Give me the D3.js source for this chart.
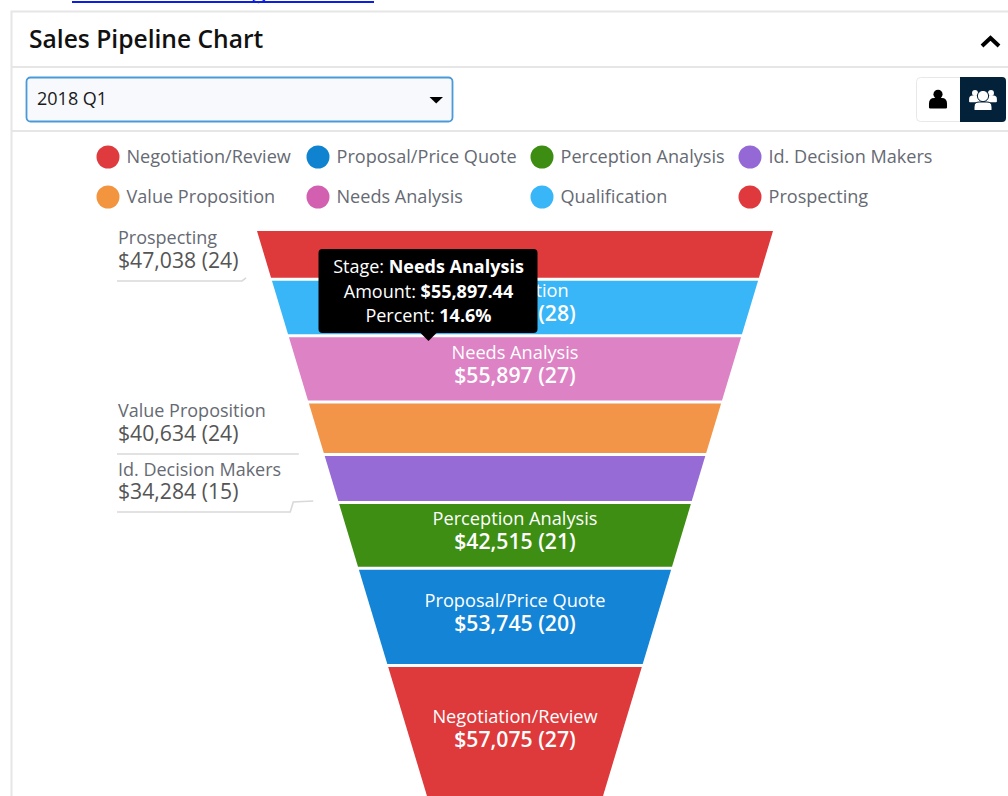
<!DOCTYPE html>
<html>
<head>
<meta charset="utf-8">
<script src="https://cdn.jsdelivr.net/npm/d3@7"></script>
<style>
  html, body { margin: 0; padding: 0; background: #fff; overflow: hidden; }
  svg { display: block; font-family: "Open Sans", sans-serif; }
</style>
</head>
<body>
<svg id="chart" width="1008" height="796"></svg>
<script>
// funnel order, top to bottom
const stages = ['Prospecting', 'Qualification', 'Needs Analysis', 'Value Proposition', 'Id. Decision Makers', 'Perception Analysis', 'Proposal/Price Quote', 'Negotiation/Review'];
const amounts = [47038, 51670, 55897, 40634, 34284, 42515, 53745, 57075]; // qualification is behind the tooltip, worked out from 14.6%
const counts = [24, 28, 27, 24, 15, 21, 20, 27];
const bandColors = ['#de393b', '#38b6f8', '#dd82c4', '#f29548', '#966bd5', '#3d8e12', '#1484d6', '#de393b'];

// legend has its own order and a slightly different pink
const legendStages = ['Negotiation/Review', 'Proposal/Price Quote', 'Perception Analysis', 'Id. Decision Makers', 'Value Proposition', 'Needs Analysis', 'Qualification', 'Prospecting'];
const legendColors = ['#df3a3e', '#0f82d0', '#3c8d11', '#9469d6', '#f3943f', '#d35fb0', '#38b6f8', '#e0393d'];

const tooltipRows = [['Stage: ', 'Needs Analysis'], ['Amount: ', '$55,897.44'], ['Percent: ', '14.6%']];

const svg = d3.select('#chart');
const fmt = d3.format('$,.0f');

// ---- page frame ----
const lineColor = '#e6e6e6';
svg.append('rect').attr('x', 72).attr('y', 1).attr('width', 302).attr('height', 2).attr('fill', '#0a1fe0');
svg.append('path').attr('d', 'M253 0 Q258 5 265 0').attr('fill', 'none').attr('stroke', '#0a1fe0').attr('stroke-width', 1.5);
svg.append('rect').attr('x', 11.5).attr('y', 11.5).attr('width', 1100).attr('height', 900).attr('fill', '#fff').attr('stroke', lineColor).attr('stroke-width', 2);
[67, 131].forEach(y => svg.append('line').attr('x1', 12).attr('x2', 1008).attr('y1', y).attr('y2', y).attr('stroke', lineColor).attr('stroke-width', 2));

svg.append('text').attr('x', 29).attr('y', 48).attr('font-size', 24.6).attr('font-weight', 600).attr('fill', '#111').text('Sales Pipeline Chart');
svg.append('path').attr('d', 'M982 46 L990.5 38 L999 46').attr('fill', 'none').attr('stroke', '#000').attr('stroke-width', 4);

// ---- quarter select ----
svg.append('rect').attr('x', 26.5).attr('y', 77.5).attr('width', 426).attr('height', 44).attr('rx', 4)
  .attr('fill', '#f8f9fd').attr('stroke', '#4a9ad8').attr('stroke-width', 1.8);
svg.append('text').attr('x', 37).attr('y', 105).attr('font-size', 18).attr('fill', '#1a1a1a').text('2018 Q1');
svg.append('path').attr('d', 'M429.5 97 H443 L436.2 103.5 Z').attr('fill', '#000');

// ---- person / team toggle ----
svg.append('rect').attr('x', 916.5).attr('y', 77.5).attr('width', 88).attr('height', 44).attr('rx', 4).attr('fill', '#fff').attr('stroke', '#e8e8e8');
svg.append('path').attr('d', 'M960 77 H1002 a4 4 0 0 1 4 4 V118 a4 4 0 0 1 -4 4 H960 Z').attr('fill', '#03223a');

function person(cx, cy, s, fill) {
  const g = svg.append('g').attr('transform', `translate(${cx},${cy}) scale(${s})`).attr('fill', fill);
  g.append('circle').attr('cy', -5).attr('r', 4.8);
  g.append('path').attr('d', 'M-9.5 9 V5 Q-9.5 -1 -4 -1 H4 Q9.5 -1 9.5 5 V9 Q9.5 10 8 10 H-8 Q-9.5 10 -9.5 9 Z');
}
person(938, 99, 0.95, '#000');
person(975, 96, 0.62, '#fff');
person(991, 96, 0.62, '#fff');
svg.append('circle').attr('cx', 983).attr('cy', 96).attr('r', 5.6).attr('fill', '#fff').attr('stroke', '#03223a').attr('stroke-width', 1);
svg.append('path').attr('d', 'M974 110.5 V107 Q974 102 979 102 H987 Q992 102 992 107 V110.5 Z').attr('fill', '#fff').attr('stroke', '#03223a').attr('stroke-width', 1);

// ---- legend ----
const legendX = d3.scaleOrdinal().domain([0, 1, 2, 3]).range([108, 318, 542, 750]);
const legendY = d3.scaleOrdinal().domain([0, 1]).range([157, 197]);
const legend = svg.append('g').selectAll('g').data(legendStages).join('g')
  .attr('transform', (d, i) => `translate(${legendX(i % 4)},${legendY(Math.floor(i / 4))})`);
legend.append('circle').attr('r', 11.5).attr('fill', (d, i) => legendColors[i]);
legend.append('text').attr('x', 18.5).attr('y', 6).attr('font-size', 18.1).attr('fill', '#666a73').text(d => d);

// ---- funnel: band area is proportional to amount ----
const funnelTop = 231;
const leftEdge = d3.scaleLinear().domain([funnelTop, 796]).range([257, 427]);
const rightEdge = d3.scaleLinear().domain([funnelTop, 796]).range([773, 603]);
const total = d3.sum(amounts);
const areaScale = d3.scaleLinear().domain([0, total]).range([0, 196720]);

// y at which the funnel above it holds this much area
function yAtArea(a) {
  const w0 = rightEdge(funnelTop) - leftEdge(funnelTop);
  const taper = (w0 - (rightEdge(796) - leftEdge(796))) / (796 - funnelTop);
  return funnelTop + (w0 - Math.sqrt(w0 * w0 - 2 * taper * a)) / taper;
}

const cum = [0, ...d3.cumsum(amounts)];
const gap = 3;
const bands = stages.map((stage, i) => {
  const y0 = yAtArea(areaScale(cum[i])) + (i ? gap / 2 : 0);
  const y1 = yAtArea(areaScale(cum[i + 1])) - gap / 2;
  return { stage, amount: amounts[i], count: counts[i], color: bandColors[i], y0, y1 };
});

svg.append('g').selectAll('path').data(bands).join('path')
  .attr('fill', d => d.color)
  .attr('d', d => d3.line()([[leftEdge(d.y0), d.y0], [rightEdge(d.y0), d.y0], [rightEdge(d.y1), d.y1], [leftEdge(d.y1), d.y1]]) + 'Z');

// thin bands do not fit their label, it goes out to the left
const minInsideHeight = 52;
const inside = bands.filter(d => d.y1 - d.y0 >= minInsideHeight);
const outside = bands.filter(d => d.y1 - d.y0 < minInsideHeight);

const insideLabels = svg.append('g').selectAll('g').data(inside).join('g')
  .attr('text-anchor', 'middle').attr('fill', '#fff')
  .attr('transform', d => `translate(515,${(d.y0 + Math.min(d.y1, 800)) / 2})`);
insideLabels.append('text').attr('y', -10).attr('font-size', 18.2).attr('font-weight', 500).text(d => d.stage);
insideLabels.append('text').attr('y', 14).attr('font-size', 21.2).attr('font-weight', 600).text(d => `${fmt(d.amount)} (${d.count})`);

// baseline of the first label row and how the leader runs, picked by eye per stage
const outsideNameY = { 'Prospecting': 244, 'Value Proposition': 417, 'Id. Decision Makers': 476 };
const outsideAmountGap = { 'Prospecting': 24, 'Value Proposition': 24, 'Id. Decision Makers': 23 };
const leaderElbowRun = { 'Prospecting': 1, 'Value Proposition': 0, 'Id. Decision Makers': 20 };

const outsideLabels = svg.append('g').selectAll('g').data(outside).join('g')
  .attr('transform', d => `translate(118,${outsideNameY[d.stage]})`);
outsideLabels.append('text').attr('font-size', 18).attr('fill', '#666a73').text(d => d.stage);
outsideLabels.append('text').attr('y', d => outsideAmountGap[d.stage]).attr('font-size', 21.2).attr('fill', '#555').text(d => `${fmt(d.amount)} (${d.count})`);

svg.append('g').selectAll('path').data(outside).join('path')
  .attr('fill', 'none').attr('stroke', '#d9d9d9').attr('stroke-width', 1.6)
  .attr('d', d => {
    const yLine = outsideNameY[d.stage] + outsideAmountGap[d.stage] + 13;
    const endX = leftEdge(d.y1) - 25;
    const endY = d.y1;
    if (Math.abs(yLine - endY) < 2) return d3.line()([[117, yLine], [endX, yLine]]);
    const elbowX = endX - leaderElbowRun[d.stage];
    return d3.line()([[117, yLine], [elbowX - 3, yLine], [elbowX, endY + 1], [endX, endY]]);
  });

// ---- tooltip over Needs Analysis ----
const tip = svg.append('g').attr('transform', 'translate(428.5,0)');
tip.append('rect').attr('x', -110).attr('y', 249).attr('width', 219).attr('height', 84).attr('rx', 4).attr('fill', '#000');
tip.append('path').attr('d', 'M-8 333 H8 L0 341 Z').attr('fill', '#000');
const tipRows = tip.selectAll('text').data(tooltipRows).join('text')
  .attr('text-anchor', 'middle').attr('font-size', 18).attr('fill', '#fff')
  .attr('y', (d, i) => 273 + i * 24.5);
tipRows.append('tspan').text(d => d[0]);
tipRows.append('tspan').attr('font-weight', 700).text(d => d[1]);
</script>
</body>
</html>
